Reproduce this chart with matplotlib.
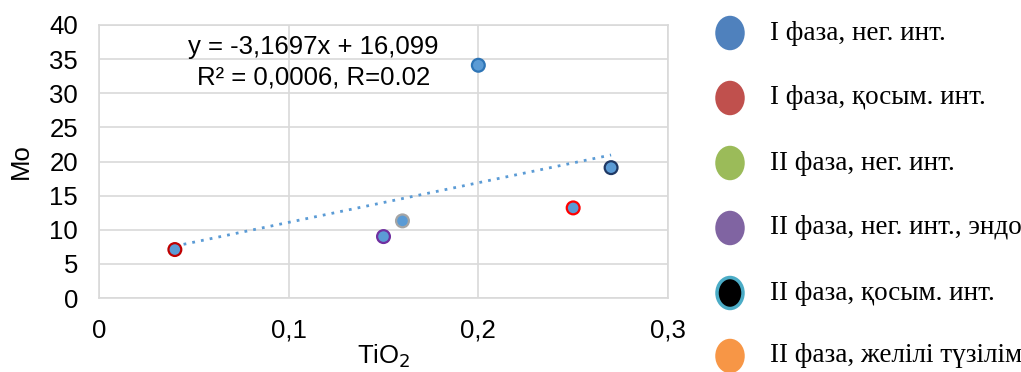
import numpy as np
import matplotlib
matplotlib.use("Agg")
import matplotlib.pyplot as plt
from matplotlib.patches import Ellipse

# scatter data (TiO2 vs Mo)
tio2 = [0.04, 0.15, 0.16, 0.20, 0.25, 0.27]
mo = [7.1, 9.0, 11.3, 34.1, 13.2, 19.1]
edge_colors = ["#C00000", "#7030A0", "#A5A5A5", "#2E75B6", "#FF0000", "#1F3864"]

x_ticks = [0, 0.1, 0.2, 0.3]
x_tick_labels = ["0", "0,1", "0,2", "0,3"]
y_ticks = [0, 5, 10, 15, 20, 25, 30, 35, 40]

eq_lines = ["y = -3,1697x + 16,099", "R² = 0,0006, R=0.02"]

legend_labels = [
    "I фаза, нег. инт.",
    "I фаза, қосым. инт.",
    "II фаза, нег. инт.",
    "II фаза, нег. инт., эндо",
    "II фаза, қосым. инт.",
    "II фаза, желілі түзілім",
]
legend_faces = ["#4F81BD", "#C0504D", "#9BBB59", "#8064A2", "#000000", "#F79646"]
legend_edges = ["#4F81BD", "#C0504D", "#9BBB59", "#8064A2", "#4BACC6", "#F79646"]

plt.rcParams["font.family"] = ["Liberation Sans", "DejaVu Sans"]
fs = 18.5
grid_c = "#D9D9D9"

fig = plt.figure(figsize=(10.21, 3.72), dpi=100)
ax = fig.add_axes([99 / 1021, 74 / 372, 569 / 1021, 273 / 372])

ax.scatter(tio2, mo, s=85, c="#5B9BD5", edgecolors=edge_colors, linewidths=1.6, zorder=3)

# linear trend through the plotted points
k, b = np.polyfit(tio2, mo, 1)
xs = np.array([min(tio2), max(tio2)])
ax.plot(xs, k * xs + b, color="#5B9BD5", lw=2, ls=(0, (1, 2.2)), zorder=2)

ax.set_xlim(0, 0.3)
ax.set_ylim(0, 40)
ax.set_xticks(x_ticks)
ax.set_xticklabels(x_tick_labels)
ax.set_yticks(y_ticks)
ax.tick_params(axis="both", length=0, labelsize=fs)
ax.tick_params(axis="x", pad=15)
ax.tick_params(axis="y", pad=15)
ax.grid(True, color=grid_c, lw=1.2)
ax.set_axisbelow(True)
for s in ax.spines.values():
    s.set_color(grid_c)
    s.set_linewidth(1.2)

ax.set_xlabel("TiO$_2$", fontsize=fs, labelpad=0)
ax.set_ylabel("Mo", fontsize=fs, labelpad=12)

ax.text(0.113, 36.8, eq_lines[0], ha="center", va="center", fontsize=fs)
ax.text(0.113, 32.3, eq_lines[1], ha="center", va="center", fontsize=fs)

# legend drawn as a separate panel
lax = fig.add_axes([0, 0, 1, 1])
lax.set_xlim(0, 1021)
lax.set_ylim(372, 0)
lax.axis("off")
ys = [33, 98, 163, 228, 293, 356]
for yy, lab, fc, ec in zip(ys, legend_labels, legend_faces, legend_edges):
    lax.add_patch(Ellipse((730, yy), 26, 31, facecolor=fc, edgecolor=ec, lw=2.5))
    lax.text(770, yy, lab, ha="left", va="center", fontsize=19.5,
             family=["Liberation Serif", "DejaVu Serif"])

fig.savefig("out.png", dpi=100)
